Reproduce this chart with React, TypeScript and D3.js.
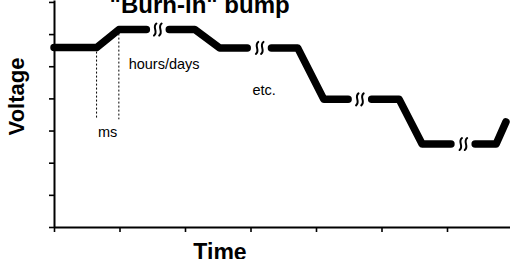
import React, { useEffect, useRef } from "react";
import * as d3 from "d3";

const width = 510;
const height = 259;

// each stretch of the curve, cut by the "≀≀" breaks
const segmentTimes = [
  [0, 0.65, 0.99, 1.41],
  [1.76, 2.15, 2.53, 2.95],
  [3.32, 3.72, 4.12, 4.49],
  [4.85, 5.27, 5.62, 6.06],
  [6.43, 6.75, 6.9],
];
const segmentVolts = [
  [5.58, 5.58, 6.14, 6.14],
  [6.14, 6.14, 5.57, 5.57],
  [5.57, 5.57, 3.97, 3.97],
  [3.97, 3.97, 2.58, 2.58],
  [2.58, 2.58, 3.27],
];
const breakTimes = [1.585, 3.14, 4.67, 6.25];
const breakVolts = [6.14, 5.57, 3.97, 2.58];

// dotted guides around the fast step
const markTimes = [0.65, 0.99];
const markTops = [5.58, 6.14];
const markBottom = 3.35;

const xTicks = [0, 1, 2, 3, 4, 5, 6, 7];
const yTicks = [0, 1, 2, 3, 4, 5, 6, 7];

const notes = ["hours/days", "etc.", "ms"];
const noteTimes = [1.14, 3.03, 0.67];
const noteVolts = [4.9, 4.12, 2.8];

const font = "'Liberation Sans', Arial, sans-serif";

const x = d3.scaleLinear().domain([0, 7]).range([54, 512.5]);
const y = d3.scaleLinear().domain([0, 7.06]).range([227, 0]);

const line = d3
  .line<[number, number]>()
  .x((d) => x(d[0]))
  .y((d) => y(d[1]));

function breakPath(cx: number, cy: number) {
  return [-2.6, 2.6]
    .map(
      (dx) =>
        `M${cx + dx + 1.2},${cy - 6} C${cx + dx - 3.5},${cy - 2.2} ${cx + dx + 3.5},${cy + 2.2} ${cx + dx - 1.2},${cy + 6}`
    )
    .join(" ");
}

export default function App() {
  const xAxisRef = useRef<SVGGElement>(null);
  const yAxisRef = useRef<SVGGElement>(null);

  useEffect(() => {
    const xAxis = d3
      .axisBottom(x)
      .tickValues(xTicks)
      .tickSize(5)
      .tickSizeOuter(0)
      .tickFormat(() => "");
    const yAxis = d3
      .axisLeft(y)
      .tickValues(yTicks)
      .tickSize(5)
      .tickSizeOuter(0)
      .tickFormat(() => "");
    const gx = d3.select(xAxisRef.current!).call(xAxis);
    const gy = d3.select(yAxisRef.current!).call(yAxis);
    [gx, gy].forEach((g) => {
      g.select(".domain").attr("stroke", "#000").attr("stroke-width", 2);
      g.selectAll(".tick line").attr("stroke", "#000").attr("stroke-width", 1.6);
    });
  }, []);

  return (
    <svg
      width={width}
      height={height}
      style={{ position: "absolute", left: 0, top: 0, display: "block", background: "#fff" }}
    >
      <text x={109.6} y={12.5} fontFamily={font} fontWeight="bold" fontSize={24}>
        "Burn-in" bump
      </text>

      {markTimes.map((t, i) => (
        <line
          key={i}
          x1={x(t)}
          x2={x(t)}
          y1={y(markTops[i])}
          y2={y(markBottom)}
          stroke="#000"
          strokeWidth={1}
          strokeDasharray="2,2"
        />
      ))}

      <g ref={xAxisRef} transform={`translate(0, ${y(0)})`} />
      <g ref={yAxisRef} transform={`translate(${x(0)}, 0)`} />

      {segmentTimes.map((ts, i) => (
        <path
          key={i}
          d={line(ts.map((t, j) => [t, segmentVolts[i][j]] as [number, number])) || ""}
          fill="none"
          stroke="#000"
          strokeWidth={7.5}
          strokeLinecap="round"
          strokeLinejoin="round"
        />
      ))}

      {breakTimes.map((t, i) => (
        <path
          key={i}
          d={breakPath(x(t), y(breakVolts[i]))}
          fill="none"
          stroke="#000"
          strokeWidth={2}
          strokeLinecap="round"
        />
      ))}

      {notes.map((n, i) => (
        <text key={n} x={x(noteTimes[i])} y={y(noteVolts[i])} fontFamily={font} fontSize={14.5}>
          {n}
        </text>
      ))}

      <text
        transform={`translate(24, 96.5) rotate(-90)`}
        textAnchor="middle"
        fontFamily={font}
        fontWeight="bold"
        fontSize={22}
      >
        Voltage
      </text>
      <text x={220} y={259.5} textAnchor="middle" fontFamily={font} fontWeight="bold" fontSize={23}>
        Time
      </text>
    </svg>
  );
}
